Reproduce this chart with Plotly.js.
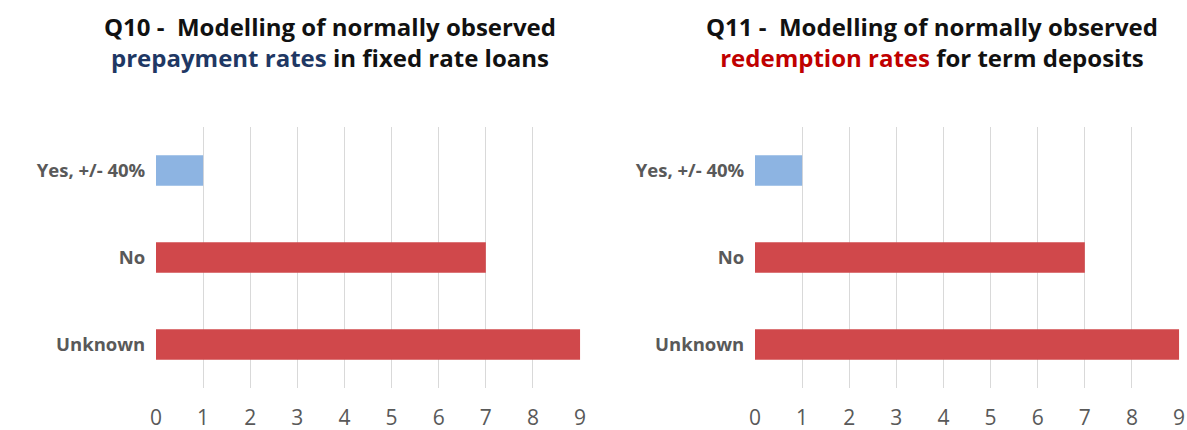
<!DOCTYPE html>
<html>
<head>
<meta charset="utf-8">
<script src="https://cdn.plot.ly/plotly-3.0.1.min.js"></script>
<style>html,body{margin:0;padding:0;background:#fff;}#chart{width:1187px;height:430px;}</style>
</head>
<body>
<div id="chart"></div>
<script>
// Data
var categories = ['Unknown', 'No', 'Yes, +/- 40%'];
var q10Values = [9, 7, 1];
var q11Values = [9, 7, 1];
var xTickValues = [0, 1, 2, 3, 4, 5, 6, 7, 8, 9];

var BLUE = '#8DB4E2';
var RED = '#D0484B';
function barColors(cats) {
  return cats.map(function (c) { return c.indexOf('Yes') === 0 ? BLUE : RED; });
}

var traces = [
  {type: 'bar', orientation: 'h', y: categories, x: q10Values, xaxis: 'x', yaxis: 'y',
   width: 0.35, marker: {color: barColors(categories)}, hoverinfo: 'x+y'},
  {type: 'bar', orientation: 'h', y: categories, x: q11Values, xaxis: 'x2', yaxis: 'y2',
   width: 0.35, marker: {color: barColors(categories)}, hoverinfo: 'x+y'}
];

var W = 1187, H = 430;
var yDom = [1 - 388 / H, 1 - 127 / H];
var xAxisCommon = {
  range: [0, 9.02], tickvals: xTickValues, showgrid: true, gridcolor: '#d9d9d9', gridwidth: 1,
  zeroline: false, showline: false, ticks: 'outside', ticklen: 11, tickcolor: 'rgba(0,0,0,0)',
  tickfont: {family: 'Open Sans, sans-serif', size: 21, color: '#595959'}, fixedrange: true
};
var yAxisCommon = {
  domain: yDom, range: [-0.5, 2.5], showgrid: false, zeroline: false, showline: false,
  ticks: 'outside', ticklen: 6, tickcolor: 'rgba(0,0,0,0)',
  tickfont: {family: 'Open Sans, sans-serif', size: 18.5, color: '#595959', weight: 'bold'}, fixedrange: true
};

var layout = {
  width: W, height: H, margin: {l: 0, r: 0, t: 0, b: 0},
  paper_bgcolor: '#ffffff', plot_bgcolor: 'rgba(0,0,0,0)', showlegend: false,
  xaxis: Object.assign({}, xAxisCommon, {domain: [156 / W, 581 / W], anchor: 'y'}),
  yaxis: Object.assign({}, yAxisCommon, {anchor: 'x'}),
  xaxis2: Object.assign({}, xAxisCommon, {domain: [755 / W, 1180 / W], anchor: 'y2'}),
  yaxis2: Object.assign({}, yAxisCommon, {anchor: 'x2'}),
  annotations: [
    {xref: 'paper', yref: 'paper', x: 330 / W, y: 1 - 8 / H, xanchor: 'center', yanchor: 'top',
     showarrow: false, align: 'center',
     font: {family: 'Open Sans, sans-serif', size: 24, color: '#111111'},
     text: '<b>Q10 -  Modelling of normally observed</b><br><b><span style="color:#1F3864">prepayment rates</span> in fixed rate loans</b>'},
    {xref: 'paper', yref: 'paper', x: 932 / W, y: 1 - 8 / H, xanchor: 'center', yanchor: 'top',
     showarrow: false, align: 'center',
     font: {family: 'Open Sans, sans-serif', size: 24, color: '#111111'},
     text: '<b>Q11 -  Modelling of normally observed</b><br><b><span style="color:#C00000">redemption rates</span> for term deposits</b>'}
  ]
};

Plotly.newPlot('chart', traces, layout, {displayModeBar: false, staticPlot: true});
</script>
</body>
</html>
